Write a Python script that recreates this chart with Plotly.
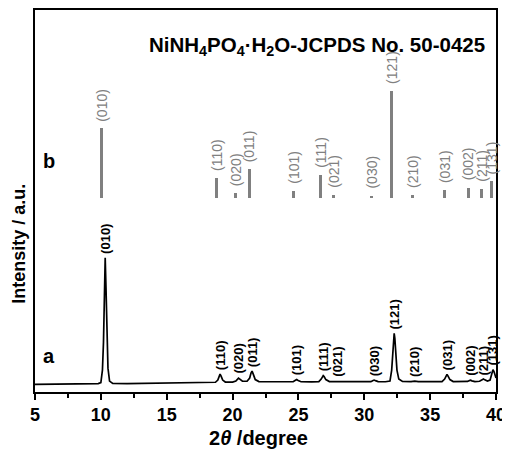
import plotly.graph_objects as go

# measured pattern (curve a), 2theta in degree, intensity in a.u.
two_theta = [5.0, 6.0, 7.0, 8.0, 9.0, 9.8,
             10.0, 10.12, 10.2, 10.27, 10.33, 10.39, 10.46, 10.54, 10.66, 10.9,
             12.0, 13.0, 14.0, 15.0, 16.0, 17.0, 18.0, 18.7,
             18.88, 18.97, 19.05, 19.13, 19.25, 19.45, 20.0,
             20.25, 20.37, 20.45, 20.55, 20.75, 21.1,
             21.3, 21.4, 21.48, 21.57, 21.72, 22.0, 23.0, 24.0, 24.6,
             24.77, 24.87, 24.98, 25.2, 26.0, 26.55,
             26.73, 26.82, 26.88, 26.95, 27.08, 27.35, 27.75, 27.9, 28.1, 29.0, 30.0, 30.5,
             30.67, 30.75, 30.85, 31.05, 31.6, 31.95,
             32.08, 32.16, 32.22, 32.27, 32.32, 32.39, 32.48, 32.62, 32.9,
             33.55, 33.83, 34.1, 35.0, 35.9,
             36.1, 36.2, 36.28, 36.36, 36.5, 36.75, 37.5, 37.85,
             37.98, 38.07, 38.17, 38.4, 38.75,
             38.95, 39.05, 39.15, 39.35, 39.55,
             39.68, 39.77, 39.86, 40.0]
intensity = [7.7, 7.9, 8.0, 8.1, 8.3, 8.5,
             9.5, 22, 50, 100, 135, 105, 55, 24, 11, 8.6,
             8.5, 8.6, 8.8, 8.9, 9.0, 9.2, 9.4, 9.8,
             12, 16, 18, 16, 12, 10, 10,
             11, 13, 14, 13, 10.8, 10.8,
             14, 19, 21, 18, 12.5, 10.5, 10.2, 10.2, 10.3,
             11.8, 12.5, 11.6, 10.3, 10.2, 10.5,
             13, 15.5, 16.5, 15.5, 12.5, 10.5, 10.4, 11, 10.4, 10.2, 10.3, 10.4,
             11.6, 12, 11.4, 10.4, 10.3, 11,
             22, 40, 53, 59, 54, 38, 22, 13, 10.6,
             10.4, 10.9, 10.4, 10.3, 10.5,
             13, 16, 17.7, 16, 12.5, 10.5, 10.4, 10.6,
             11.5, 11.8, 11.2, 10.4, 10.8,
             12.3, 13, 12.2, 11, 12,
             19, 22.5, 20, 14]
assert len(two_theta) == len(intensity)

# indexed peaks of curve a
peak_hkl = ["(010)", "(110)", "(020)", "(011)", "(101)", "(111)", "(021)",
            "(030)", "(121)", "(210)", "(031)", "(002)", "(211)", "(131)"]
peak_pos = [10.33, 19.05, 20.45, 21.48, 24.87, 26.88, 27.9,
            30.75, 32.27, 33.83, 36.28, 38.07, 39.05, 39.77]
peak_top = [135, 18, 14, 21, 12.5, 16.5, 11,
            12, 59, 10.8, 17.7, 11.8, 13, 22.5]

# JCPDS 50-0425 reference lines (curve b)
ref_pos = [10.08, 18.81, 20.23, 21.26, 24.60, 26.65, 27.64,
           30.55, 32.09, 33.66, 36.09, 37.88, 38.87, 39.68]
ref_height = [70, 20, 5, 29, 7, 23, 3,
              2.5, 108, 3, 8, 10.5, 9.5, 17]
ref_base = 195

# page is drawn with an 8px body margin, so the figure is 8px smaller
# and all "page" positions below are converted with that offset
Y_TOP = 384  # plot height in px (= y range)


def py(page_y):
    return (392 - page_y) / Y_TOP


def px_(page_x):
    return (page_x - 35) / 461


fig = go.Figure()

fig.add_trace(go.Bar(
    x=ref_pos, y=ref_height, base=ref_base, width=0.23,
    marker=dict(color="#808080", line=dict(width=0)),
))

fig.add_trace(go.Scatter(
    x=two_theta, y=intensity, mode="lines",
    line=dict(color="black", width=1.7),
))

annos = []
for hkl, x, y in zip(peak_hkl, peak_pos, peak_top):
    annos.append(dict(x=x, y=y, text="<b>" + hkl + "</b>", textangle=-90,
                      showarrow=False, xanchor="center", yanchor="bottom",
                      yshift=2, font=dict(size=13, color="black")))
for hkl, x, h in zip(peak_hkl, ref_pos, ref_height):
    annos.append(dict(x=x, y=ref_base + h, text=hkl, textangle=-90,
                      showarrow=False, xanchor="center", yanchor="bottom",
                      yshift=5, font=dict(size=14, color="#808080")))

# title, curve letters, axis titles
annos.append(dict(xref="paper", yref="paper", x=px_(487), y=py(44),
                  text="<b>NiNH<sub>4</sub>PO<sub>4</sub>·H<sub>2</sub>O-JCPDS No. 50-0425</b>",
                  showarrow=False, xanchor="right", yanchor="middle",
                  font=dict(size=20.5, color="black")))
annos.append(dict(xref="paper", yref="paper", x=px_(49), y=py(160),
                  text="<b>b</b>", showarrow=False, xanchor="center", yanchor="middle",
                  font=dict(size=20, color="black")))
annos.append(dict(xref="paper", yref="paper", x=px_(49), y=py(356),
                  text="<b>a</b>", showarrow=False, xanchor="center", yanchor="middle",
                  font=dict(size=20, color="black")))
annos.append(dict(xref="paper", yref="paper", x=px_(258), y=py(438),
                  text="<b>2<i>θ</i> /degree</b>", showarrow=False,
                  xanchor="center", yanchor="middle",
                  font=dict(size=20, color="black")))
annos.append(dict(xref="paper", yref="paper", x=px_(19), y=py(243),
                  text="<b>Intensity / a.u.</b>", textangle=-90, showarrow=False,
                  xanchor="center", yanchor="middle", borderpad=0,
                  font=dict(size=18, color="black")))

fig.update_layout(
    width=502, height=446,
    margin=dict(l=27, r=14, t=0, b=62),
    paper_bgcolor="white", plot_bgcolor="white",
    showlegend=False,
    font=dict(family="Arial, Liberation Sans, sans-serif", color="black"),
    annotations=annos,
    bargap=0,
)
fig.update_xaxes(
    range=[5, 40], dtick=5, tick0=5,
    ticks="outside", ticklen=6, tickwidth=1.5, tickcolor="black",
    minor=dict(dtick=2.5, ticks="outside", ticklen=4, tickwidth=1.5, tickcolor="black"),
    showline=True, linecolor="black", linewidth=1.5, mirror=True,
    showgrid=False, zeroline=False,
    tickfont=dict(size=18, color="black", weight="bold"),
)
fig.update_yaxes(
    range=[0, Y_TOP], showticklabels=False, ticks="",
    showline=True, linecolor="black", linewidth=1.5, mirror=True,
    showgrid=False, zeroline=False,
)

fig.write_html("out.html")
